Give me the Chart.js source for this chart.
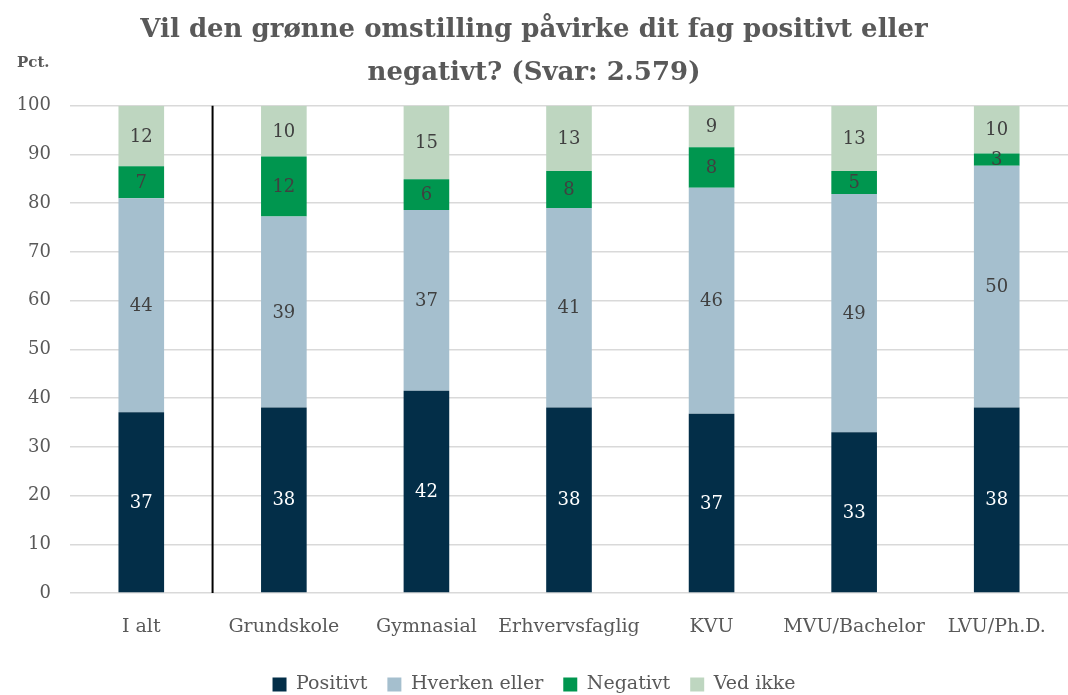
<!DOCTYPE html>
<html>
<head>
<meta charset="utf-8">
<script src="https://cdn.jsdelivr.net/npm/chart.js@4"></script>
<style>
  html, body { margin: 0; padding: 0; background: #fff; }
  #wrap { width: 1068px; height: 695px; }
</style>
</head>
<body>
<div id="wrap"><canvas id="chart"></canvas></div>
<script>
const categories = ['I alt', 'Grundskole', 'Gymnasial', 'Erhvervsfaglig', 'KVU', 'MVU/Bachelor', 'LVU/Ph.D.'];
const positivt = [37.1, 38.1, 41.5, 38.1, 36.8, 33.0, 38.1];
const hverken  = [43.9, 39.2, 37.1, 40.9, 46.4, 48.9, 49.6];
const negativt = [6.6, 12.3, 6.3, 7.6, 8.3, 4.7, 2.5];
const vedIkke  = [12.4, 10.4, 15.1, 13.4, 8.5, 13.4, 9.8];
const yTicks = [0, 10, 20, 30, 40, 50, 60, 70, 80, 90, 100];

const FONT = "'DejaVu Serif', 'Liberation Serif', serif";
const GREY = '#595959';

// value labels in the middle of each segment
const segmentLabels = {
    id: 'segmentLabels',
    afterDatasetsDraw(chart) {
        const ctx = chart.ctx;
        ctx.save();
        ctx.font = '18px ' + FONT;
        ctx.textAlign = 'center';
        ctx.textBaseline = 'middle';
        chart.data.datasets.forEach((ds, i) => {
            const meta = chart.getDatasetMeta(i);
            meta.data.forEach((bar, j) => {
                const v = ds.data[j];
                const mid = (bar.y + bar.base) / 2;
                ctx.fillStyle = i === 0 ? '#ffffff' : '#404040';
                ctx.fillText(Math.round(v), bar.x, mid + 1);
            });
        });
        ctx.restore();
    }
};

// vertical line between "I alt" and the rest, plus the "Pct." unit
const extras = {
    id: 'extras',
    afterDatasetsDraw(chart) {
        const ctx = chart.ctx;
        const x = chart.scales.x;
        const area = chart.chartArea;
        const sep = (x.getPixelForValue(0) + x.getPixelForValue(1)) / 2;
        ctx.save();
        ctx.strokeStyle = '#000000';
        ctx.lineWidth = 2;
        ctx.beginPath();
        ctx.moveTo(sep, area.top);
        ctx.lineTo(sep, area.bottom);
        ctx.stroke();
        ctx.fillStyle = GREY;
        ctx.font = 'bold 15px ' + FONT;
        ctx.textAlign = 'left';
        ctx.textBaseline = 'middle';
        ctx.fillText('Pct.', 17, 63);
        ctx.restore();
    }
};

const ctx = document.getElementById('chart').getContext('2d');
new Chart(ctx, {
    type: 'bar',
    data: {
        labels: categories,
        datasets: [
            { label: 'Positivt', data: positivt, backgroundColor: '#032E48' },
            { label: 'Hverken eller', data: hverken, backgroundColor: '#A5BFCE' },
            { label: 'Negativt', data: negativt, backgroundColor: '#00964F' },
            { label: 'Ved ikke', data: vedIkke, backgroundColor: '#BED6C0' }
        ]
    },
    options: {
        responsive: true,
        maintainAspectRatio: false,
        animation: false,
        datasets: {
            bar: { categoryPercentage: 1, barPercentage: 0.32 }
        },
        layout: { padding: { left: 0, right: 0, top: 9, bottom: -9 } },
        plugins: {
            title: {
                display: true,
                text: ['Vil den grønne omstilling påvirke dit fag positivt eller', 'negativt? (Svar: 2.579)'],
                color: GREY,
                font: { family: FONT, size: 26, weight: 'bold', lineHeight: 1.65 },
                padding: { top: 0, bottom: 11 }
            },
            legend: {
                position: 'bottom',
                labels: {
                    color: GREY,
                    font: { family: FONT, size: 19 },
                    boxWidth: 14,
                    boxHeight: 14,
                    padding: 20
                }
            },
            tooltip: { enabled: false }
        },
        scales: {
            x: {
                stacked: true,
                grid: { display: false },
                border: { display: false },
                ticks: { color: GREY, font: { family: FONT, size: 19 }, padding: 15, maxRotation: 0, autoSkip: false },
                afterFit(scale) { scale.height = 62; }
            },
            y: {
                stacked: true,
                min: 0,
                max: 100,
                afterBuildTicks(scale) { scale.ticks = yTicks.map(v => ({ value: v })); },
                grid: { color: '#D9D9D9', lineWidth: 1.5, drawTicks: false },
                border: { display: false },
                ticks: { color: GREY, font: { family: FONT, size: 18 }, padding: 19 },
                afterFit(scale) { scale.width = 70; }
            }
        }
    },
    plugins: [segmentLabels, extras]
});
</script>
</body>
</html>
